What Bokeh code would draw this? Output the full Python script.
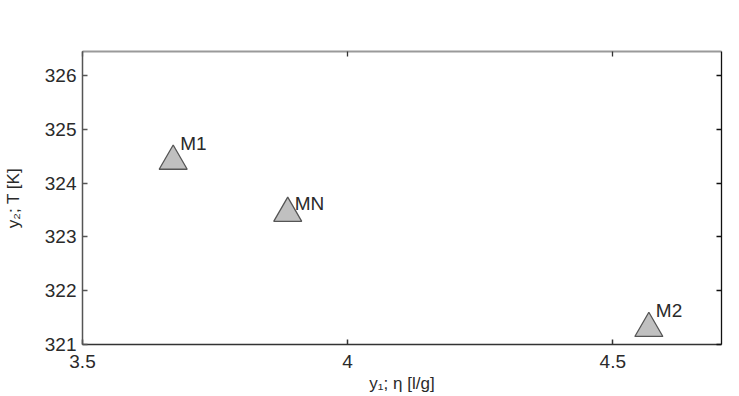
from bokeh.plotting import figure
from bokeh.models import ColumnDataSource, Range1d, FixedTicker, LinearAxis
from bokeh.core.properties import value
from bokeh.embed import file_html
from bokeh.resources import INLINE

# Data
names = ["M1", "MN", "M2"]
eta = [3.671, 3.887, 4.568]          # y1: eta [l/g]
temp = [324.41, 323.44, 321.30]      # y2: T [K]

x_ticks = [3.5, 4.0, 4.5]
x_tick_labels = ["3.5", "4", "4.5"]
y_ticks = [321, 322, 323, 324, 325, 326]
y_tick_labels = ["321", "322", "323", "324", "325", "326"]

x_title = "y₁; η [l/g]"
y_title = "y₂; T [K]"

# label placement (screen px)
label_dx = [7, 7, 7]
label_dy = [-18, -10, -18]

FONT = "Liberation Sans"
XMIN, XMAX = 3.5, 4.705
YMIN, YMAX = 321, 326.45

p = figure(width=739, height=396, output_backend="svg", toolbar_location=None,
           x_range=Range1d(XMIN, XMAX), y_range=Range1d(YMIN, YMAX),
           x_axis_location=None, y_axis_location=None,
           min_border_left=82, min_border_right=18, min_border_top=51, min_border_bottom=52)
p.outline_line_color = None
p.xgrid.visible = False
p.ygrid.visible = False
p.background_fill_color = "white"
p.border_fill_color = "white"

def style_axis(ax, ticks, labels, color, lw, show_labels=True):
    ax.ticker = FixedTicker(ticks=ticks)
    ax.major_tick_in = 5
    ax.major_tick_out = 0
    ax.minor_tick_line_color = None
    ax.axis_line_color = color
    ax.axis_line_width = lw
    ax.major_tick_line_color = color
    ax.major_tick_line_width = lw
    if show_labels:
        ax.major_label_overrides = {t: l for t, l in zip(ticks, labels)}
        ax.major_label_text_font = FONT
        ax.major_label_text_font_size = "19px"
        ax.major_label_text_color = "#2a2a2a"
        ax.axis_label_text_font = FONT
        ax.axis_label_text_font_size = "17px"
        ax.axis_label_text_font_style = "normal"
        ax.axis_label_text_color = "#2a2a2a"
    else:
        ax.major_label_overrides = {t: "" for t in ticks}
        ax.major_label_text_font_size = "0px"
        ax.major_label_standoff = 0

left = LinearAxis(axis_label=y_title)
style_axis(left, y_ticks, y_tick_labels, "#555555", 1.5)
left.major_label_standoff = 6
left.axis_label_standoff = 19
p.add_layout(left, "left")

bottom = LinearAxis(axis_label=x_title)
style_axis(bottom, x_ticks, x_tick_labels, "#333333", 1.5)
bottom.major_label_standoff = 10
bottom.axis_label_standoff = 3
p.add_layout(bottom, "below")

right = LinearAxis()
style_axis(right, y_ticks, y_tick_labels, "#111111", 1.3, show_labels=False)
p.add_layout(right, "right")

top = LinearAxis()
style_axis(top, x_ticks, x_tick_labels, "#9a9a9a", 2, show_labels=False)
top.major_tick_line_color = "#333333"
top.major_tick_line_width = 1.3
p.add_layout(top, "above")

src = ColumnDataSource(dict(x=eta, y=temp, name=names, dx=label_dx, dy=label_dy))
p.scatter("x", "y", source=src, marker="triangle", size=28,
          fill_color="#c0c0c0", line_color="#555555", line_width=1.3)
p.text("x", "y", text="name", source=src, x_offset="dx", y_offset="dy",
       text_font=value(FONT), text_font_size="19px", text_color="#2a2a2a",
       text_baseline="alphabetic", text_align="left")

open("out.html", "w").write(file_html(p, INLINE))
